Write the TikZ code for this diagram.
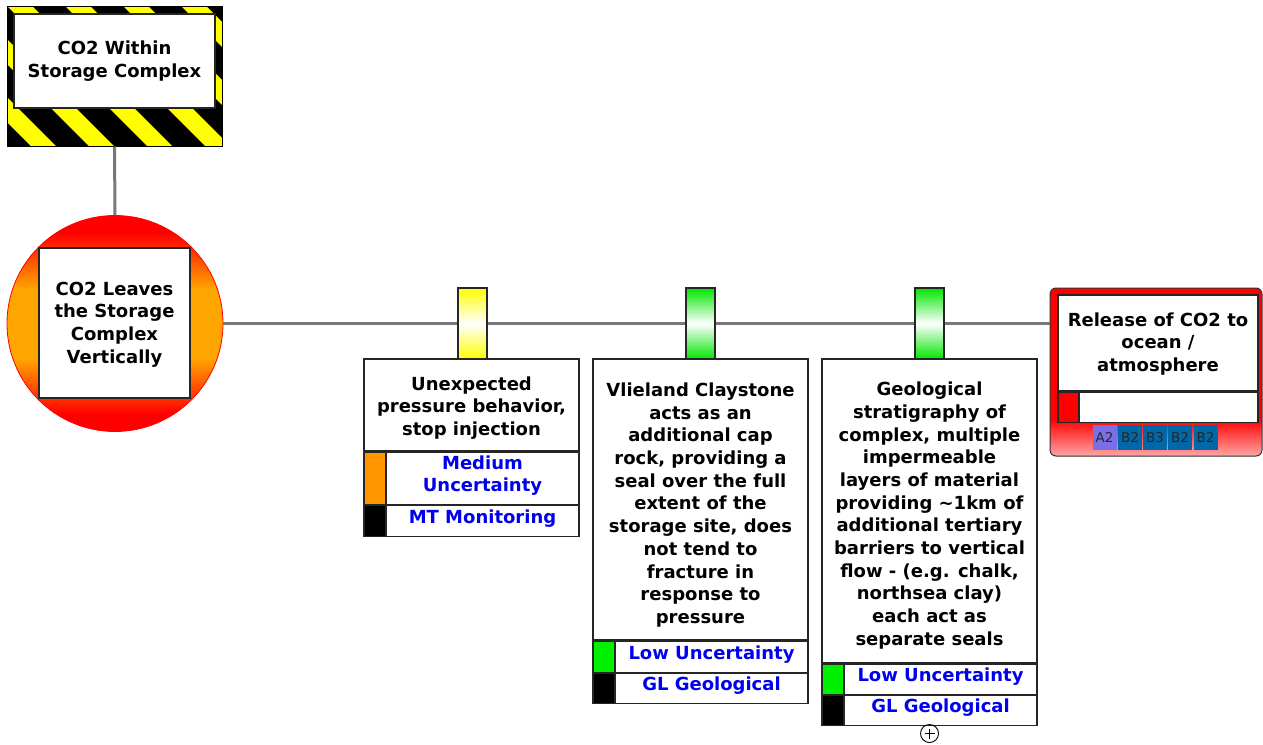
\documentclass[tikz,border=0pt]{standalone}
\usepackage{fontspec}
\setmainfont{DejaVu Sans}
\definecolor{connGray}{RGB}{120,120,120}
\definecolor{hzYellow}{RGB}{255,255,0}
\definecolor{lblBlue}{RGB}{0,0,238}
\definecolor{tagA}{RGB}{123,111,232}
\definecolor{tagB}{RGB}{0,104,168}
\definecolor{barGreen}{RGB}{0,230,0}
\definecolor{sqGreen}{RGB}{0,240,0}
\definecolor{sqOrange}{RGB}{255,150,0}
\definecolor{circOrange}{RGB}{255,165,0}
\pgfdeclareverticalshading{relshade}{100bp}{color(0bp)=(red!35!white); color(25bp)=(red!35!white); color(36bp)=(red); color(100bp)=(red)}
\pgfdeclareverticalshading{circshade}{100bp}{color(0bp)=(red); color(25bp)=(red); color(29bp)=(red); color(42bp)=(circOrange); color(58bp)=(circOrange); color(71bp)=(red); color(75bp)=(red); color(100bp)=(red)}
\tikzset{
 conn/.style={draw=connGray, line width=3pt},
 boxst/.style={draw=black!85, line width=1.1pt, fill=white, rectangle, inner sep=0pt},
 txt/.style={align=center, inner sep=0pt, font=\fontsize{18}{22.7}\selectfont\bfseries},
 rowst/.style={draw=black!85, line width=1.1pt, fill=white, rectangle, inner sep=0pt, minimum width=215pt},
 sqst/.style={draw=black!85, line width=1.1pt, rectangle, inner sep=0pt, minimum width=22pt},
 lbl/.style={text=lblBlue, align=center, inner sep=0pt, font=\fontsize{18}{22.7}\selectfont\bfseries},
 barst/.style={draw=black!85, line width=1.1pt, rectangle, inner sep=0pt, minimum width=29pt, minimum height=71pt},
 tagst/.style={rectangle, inner sep=0pt, minimum width=24pt, minimum height=25pt, font=\fontsize{13.5}{15}\selectfont, text=black!85},
}
\newcommand\barrow[5]{%
  \node[rowst, minimum height=#3, anchor=north] (#1) at (#2.south) {};
  \node[sqst, fill=#4, minimum height=#3, anchor=west] at (#1.west) {};
  \node[lbl] (#1txt) at ([xshift=11pt,yshift=2.5pt]#1.center) {#5};
}
\begin{document}
\begin{tikzpicture}[x=1pt,y=-1pt]
\useasboundingbox (0,0) rectangle (1263,744);
% top event with hazard frame
\node[rectangle, fill=black, draw=black, line width=1pt, minimum width=215pt, minimum height=140pt, inner sep=0pt,
  path picture={\foreach \k in {-3,...,4}{\fill[hzYellow] ([xshift=\k*58pt]path picture bounding box.north west) -- ++(25,0) -- ++(140,140) -- ++(-25,0) -- cycle;}}] (frame) at (114.5,76) {};
\node[boxst, minimum width=201pt, minimum height=94pt] (topbox) at (114.5,61) {};
\node[txt] (toptxt) at (topbox.center) {CO2 Within\\Storage Complex};
% threat circle
\node[circle, draw=red, line width=0.8pt, shade, shading=circshade, minimum size=216pt, inner sep=0pt] (circ) at (115,323.5) {};
\node[boxst, minimum width=151pt, minimum height=150pt] (circbox) at (114.5,323) {};
\node[txt] (circtxt) at ([yshift=-1.5pt]circbox.center) {CO2 Leaves\\the Storage\\Complex\\Vertically};
% barriers
\node[barst, top color=hzYellow, bottom color=hzYellow, middle color=white] (bar1) at (472.5,323.5) {};
\node[barst, top color=barGreen, bottom color=barGreen, middle color=white] (bar2) at (700.5,323.5) {};
\node[barst, top color=barGreen, bottom color=barGreen, middle color=white] (bar3) at (929.5,323.5) {};
% barrier boxes
\node[boxst, minimum width=215pt, minimum height=92pt] (b1) at (471.5,405) {};
\node[txt] (b1txt) at ([yshift=-3pt]b1.center) {Unexpected\\pressure behavior,\\stop injection};
\barrow{b1r1}{b1}{52pt}{sqOrange}{Medium\\Uncertainty}
\barrow{b1r2}{b1r1}{31pt}{black}{MT Monitoring}
\node[boxst, minimum width=215pt, minimum height=281pt] (b2) at (700.5,499.5) {};
\node[txt] (b2txt) at ([yshift=-5.5pt]b2.center) {Vlieland Claystone\\acts as an\\additional cap\\rock, providing a\\seal over the full\\extent of the\\storage site, does\\not tend to\\fracture in\\response to\\pressure};
\barrow{b2r1}{b2}{31pt}{sqGreen}{Low Uncertainty}
\barrow{b2r2}{b2r1}{30pt}{black}{GL Geological}
\node[boxst, minimum width=215pt, minimum height=304pt] (b3) at (929.5,511) {};
\node[txt] (b3txt) at ([yshift=-4.5pt]b3.center) {Geological\\stratigraphy of\\complex, multiple\\impermeable\\layers of material\\providing \textasciitilde1km of\\additional tertiary\\barriers to vertical\\flow - (e.g. chalk,\\northsea clay)\\each act as\\separate seals};
\barrow{b3r1}{b3}{30pt}{sqGreen}{Low Uncertainty}
\barrow{b3r2}{b3r1}{30pt}{black}{GL Geological}
\node[circle, draw=black, line width=0.9pt, minimum size=18pt, inner sep=0pt,
  path picture={\draw[line width=0.9pt] ([xshift=-5pt]path picture bounding box.center) -- ([xshift=5pt]path picture bounding box.center);
                \draw[line width=0.9pt] ([yshift=-5pt]path picture bounding box.center) -- ([yshift=5pt]path picture bounding box.center);}] (plus) at (929.5,733.5) {};
% consequence
\node[rounded corners=6pt, draw=black!80, line width=1pt, shade, shading=relshade, minimum width=212pt, minimum height=168pt, inner sep=0pt] (rel) at (1156,372) {};
\node[boxst, minimum width=200pt, minimum height=96pt] (relt) at (1158,343) {};
\node[txt] (reltxt) at ([yshift=-1pt]relt.center) {Release of CO2 to\\ocean /\\atmosphere};
\node[rowst, minimum width=200pt, minimum height=30pt, anchor=north] (relr) at (relt.south) {};
\node[sqst, fill=red, minimum width=21pt, minimum height=30pt, anchor=west] at (relr.west) {};
\node[tagst, fill=tagA] (t1) at (1104.5,437.5) {A2};
\node[tagst, fill=tagB] (t2) at (1130,437.5) {B2};
\node[tagst, fill=tagB] (t3) at (1155,437.5) {B3};
\node[tagst, fill=tagB] (t4) at (1180,437.5) {B2};
\node[tagst, fill=tagB] (t5) at (1205.5,437.5) {B2};
% connectors
\draw[conn] (frame.south) -- (circ.north);
\draw[conn] (circ.east) -- (bar1.west);
\draw[conn] (bar1.east) -- (bar2.west);
\draw[conn] (bar2.east) -- (bar3.west);
\draw[conn] (bar3.east) -- (bar3.east -| rel.west);
\end{tikzpicture}
\end{document}
